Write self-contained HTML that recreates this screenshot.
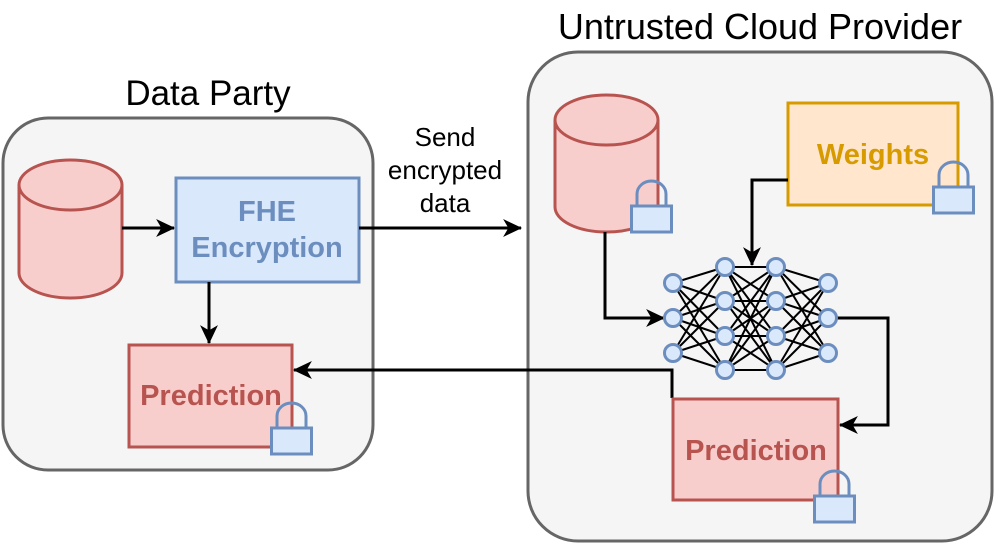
<!DOCTYPE html>
<html><head><style>body{margin:0;background:#fff}svg{display:block}</style></head><body>
<svg width="996" height="546" viewBox="0 0 996 546" xmlns="http://www.w3.org/2000/svg" font-family="Liberation Sans, sans-serif">
<defs>
<marker id="ar" markerWidth="20" markerHeight="20" refX="17" refY="8.5" orient="auto" markerUnits="userSpaceOnUse" viewBox="0 0 19 17"><path d="M0,0 L18,8.5 L0,17 L5,8.5 Z" fill="#000"/></marker>
<g id="lock"><path d="M7,26 V14 A14.5,13 0 0 1 36,14 V26" fill="none" stroke="#6c8ebf" stroke-width="3"/><rect x="1.5" y="26" width="40" height="26" fill="#dae8fc" stroke="#6c8ebf" stroke-width="3"/></g>
</defs>
<text x="208" y="105" font-size="35" text-anchor="middle">Data Party</text>
<text x="760" y="39" font-size="36" text-anchor="middle">Untrusted Cloud Provider</text>
<rect x="3" y="118" width="370" height="352" rx="45" fill="#f5f5f5" stroke="#666" stroke-width="3"/>
<rect x="528" y="52" width="464" height="489" rx="50" fill="#f5f5f5" stroke="#666" stroke-width="3"/>
<path d="M19,185 V273 A51.5,25 0 0 0 122,273 V185" fill="#f8cecc" stroke="#b85450" stroke-width="3"/>
<ellipse cx="70.5" cy="185" rx="51.5" ry="25" fill="#f8cecc" stroke="#b85450" stroke-width="3"/>
<rect x="176" y="178" width="183" height="104" fill="#dae8fc" stroke="#6c8ebf" stroke-width="3"/>
<text x="267" y="221" font-size="29" font-weight="bold" fill="#6c8ebf" text-anchor="middle">FHE</text>
<text x="267" y="257" font-size="29" font-weight="bold" fill="#6c8ebf" text-anchor="middle">Encryption</text>
<rect x="129" y="345" width="163" height="102" fill="#f8cecc" stroke="#b85450" stroke-width="3"/>
<text x="211" y="405" font-size="29" font-weight="bold" fill="#b85450" text-anchor="middle">Prediction</text>
<use href="#lock" x="270" y="402"/>
<line x1="122" y1="228" x2="174" y2="228" stroke="#000" stroke-width="3" marker-end="url(#ar)"/>
<line x1="209" y1="282" x2="209" y2="343" stroke="#000" stroke-width="3" marker-end="url(#ar)"/>
<line x1="359" y1="228" x2="521" y2="228" stroke="#000" stroke-width="3" marker-end="url(#ar)"/>
<text font-size="26" text-anchor="middle"><tspan x="445" y="146">Send</tspan><tspan x="445" y="179">encrypted</tspan><tspan x="445" y="212">data</tspan></text>
<polyline points="672,398 672,370 294,370" fill="none" stroke="#000" stroke-width="3" marker-end="url(#ar)"/>
<path d="M555,120 V207 A51.5,25 0 0 0 658,207 V120" fill="#f8cecc" stroke="#b85450" stroke-width="3"/>
<ellipse cx="606.5" cy="120" rx="51.5" ry="25" fill="#f8cecc" stroke="#b85450" stroke-width="3"/>
<use href="#lock" x="630" y="180"/>
<rect x="788" y="103" width="170" height="102" fill="#ffe6cc" stroke="#d79b00" stroke-width="3"/>
<text x="873" y="164" font-size="29" font-weight="bold" fill="#d79b00" text-anchor="middle">Weights</text>
<use href="#lock" x="932" y="161"/>
<polyline points="788,180 752,180 752,265" fill="none" stroke="#000" stroke-width="3" marker-end="url(#ar)"/>
<polyline points="605,232 605,318 664,318" fill="none" stroke="#000" stroke-width="3" marker-end="url(#ar)"/>
<polyline points="836,318 888,318 888,425 840,425" fill="none" stroke="#000" stroke-width="3" marker-end="url(#ar)"/>
<g stroke="#000" stroke-width="2">
<path d="M673,283L725,267M673,283L725,301M673,283L725,336M673,283L725,370M673,318L725,267M673,318L725,301M673,318L725,336M673,318L725,370M673,353L725,267M673,353L725,301M673,353L725,336M673,353L725,370"/>
<path d="M725,267L776,267M725,267L776,301M725,267L776,336M725,267L776,370M725,301L776,267M725,301L776,301M725,301L776,336M725,301L776,370M725,336L776,267M725,336L776,301M725,336L776,336M725,336L776,370M725,370L776,267M725,370L776,301M725,370L776,336M725,370L776,370"/>
<path d="M828,283L776,267M828,283L776,301M828,283L776,336M828,283L776,370M828,318L776,267M828,318L776,301M828,318L776,336M828,318L776,370M828,353L776,267M828,353L776,301M828,353L776,336M828,353L776,370"/>
</g>
<g fill="#dae8fc" stroke="#6c8ebf" stroke-width="3">
<circle cx="673" cy="283" r="8.5"/><circle cx="673" cy="318" r="8.5"/><circle cx="673" cy="353" r="8.5"/>
<circle cx="725" cy="267" r="8.5"/><circle cx="725" cy="301" r="8.5"/><circle cx="725" cy="336" r="8.5"/><circle cx="725" cy="370" r="8.5"/>
<circle cx="776" cy="267" r="8.5"/><circle cx="776" cy="301" r="8.5"/><circle cx="776" cy="336" r="8.5"/><circle cx="776" cy="370" r="8.5"/>
<circle cx="828" cy="283" r="8.5"/><circle cx="828" cy="318" r="8.5"/><circle cx="828" cy="353" r="8.5"/>
</g>
<rect x="673" y="399" width="165" height="101" fill="#f8cecc" stroke="#b85450" stroke-width="3"/>
<text x="756" y="460" font-size="29" font-weight="bold" fill="#b85450" text-anchor="middle">Prediction</text>
<use href="#lock" x="813" y="470"/>
</svg>
</body></html>
